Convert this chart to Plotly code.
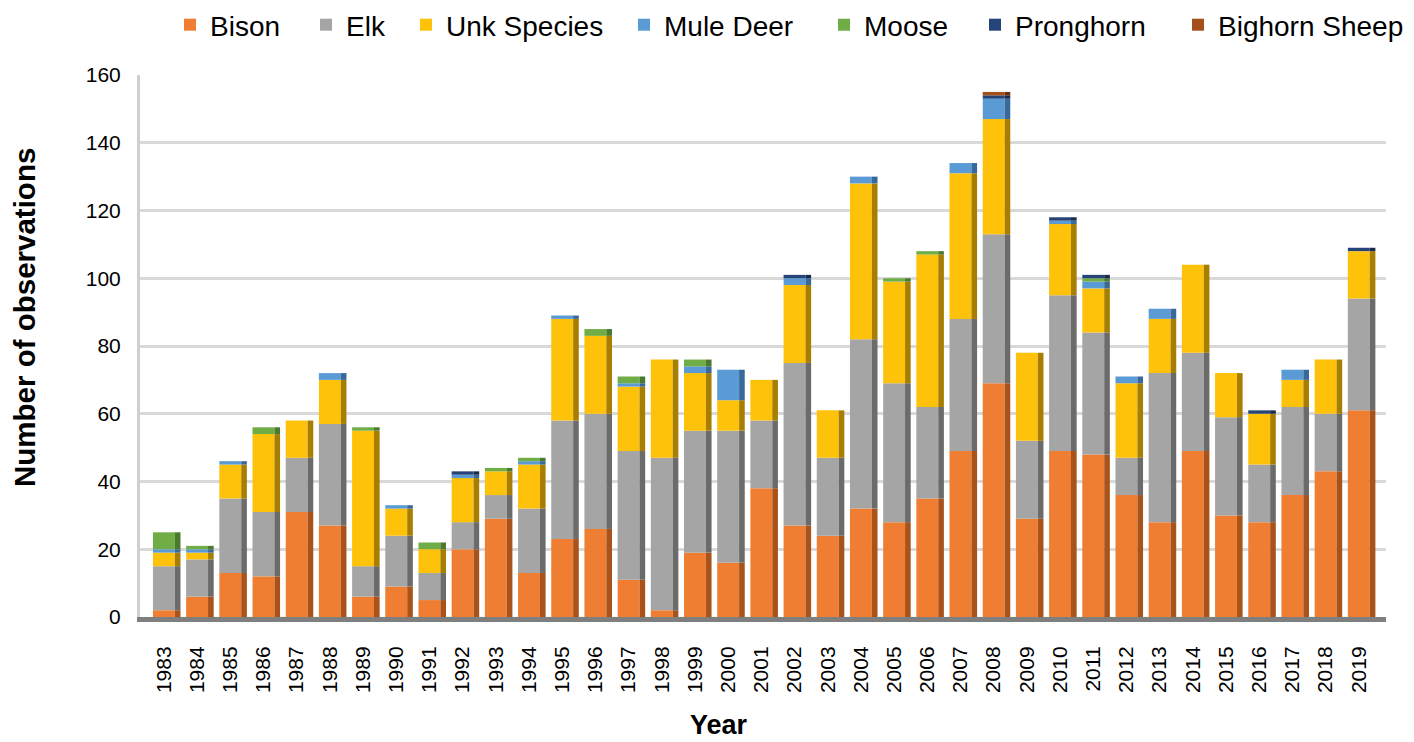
import numpy as np
import plotly.graph_objects as go

years = [str(y) for y in range(1983, 2020)]

bison = [2, 6, 13, 12, 31, 27, 6, 9, 5, 20, 29, 13, 23, 26, 11, 2, 19, 16, 38, 27,
         24, 32, 28, 35, 49, 69, 29, 49, 48, 36, 28, 49, 30, 28, 36, 43, 61]
elk = [13, 11, 22, 19, 16, 30, 9, 15, 8, 8, 7, 19, 35, 34, 38, 45, 36, 39, 20, 48,
       23, 50, 41, 27, 39, 44, 23, 46, 36, 11, 44, 29, 29, 17, 26, 17, 33]
unk_species = [4, 2, 10, 23, 11, 13, 40, 8, 7, 13, 7, 13, 30, 23, 19, 29, 17, 9, 12, 23,
               14, 46, 30, 45, 43, 34, 26, 21, 13, 22, 16, 26, 13, 15, 8, 16, 14]
mule_deer = [1, 1, 1, 0, 0, 2, 0, 1, 0, 1, 0, 1, 1, 0, 1, 0, 2, 9, 0, 2,
             0, 2, 0, 0, 3, 6, 0, 1, 2, 2, 3, 0, 0, 0, 3, 0, 0]
moose = [5, 1, 0, 2, 0, 0, 1, 0, 2, 0, 1, 1, 0, 2, 2, 0, 2, 0, 0, 0,
         0, 0, 1, 1, 0, 0, 0, 0, 1, 0, 0, 0, 0, 0, 0, 0, 0]
pronghorn = [0, 0, 0, 0, 0, 0, 0, 0, 0, 1, 0, 0, 0, 0, 0, 0, 0, 0, 0, 1,
             0, 0, 0, 0, 0, 1, 0, 1, 1, 0, 0, 0, 0, 1, 0, 0, 1]
bighorn_sheep = [0, 0, 0, 0, 0, 0, 0, 0, 0, 0, 0, 0, 0, 0, 0, 0, 0, 0, 0, 0,
                 0, 0, 0, 0, 0, 1, 0, 0, 0, 0, 0, 0, 0, 0, 0, 0, 0]

series = [
    ("Bison", bison, "#F07E32", "#A9531B"),
    ("Elk", elk, "#A5A5A5", "#6B6B6B"),
    ("Unk Species", unk_species, "#FFC20A", "#A87E00"),
    ("Mule Deer", mule_deer, "#5B9BD5", "#39699A"),
    ("Moose", moose, "#70AD47", "#4A7A2D"),
    ("Pronghorn", pronghorn, "#264478", "#172B4D"),
    ("Bighorn Sheep", bighorn_sheep, "#A5501A", "#6B300A"),
]
# left pixel of each legend entry (one legend box per series, as in the reference layout)
legend_left_px = [170, 306, 406, 624, 824, 975, 1178]

FONT = "Liberation Sans"
W, H = 1414, 742
L, R, T, B = 140, 1414 - 1386, 75, 742 - 617
pw, ph = W - L - R, H - T - B

fig = go.Figure()
base = np.zeros(len(years))
legend_layouts = {}
for i, (name, vals, col, side) in enumerate(series):
    v = np.array(vals, dtype=float)
    lg = "legend" if i == 0 else f"legend{i + 1}"
    fig.add_trace(go.Bar(
        x=years, y=v, base=base.copy(), name=name, legend=lg,
        marker=dict(color=col, line=dict(width=0)),
        width=0.66, offset=-0.33, showlegend=True,
    ))
    fig.add_trace(go.Bar(
        x=years, y=v, base=base.copy(), name=name,
        marker=dict(color=side, line=dict(width=0)),
        width=0.17, offset=0.33, showlegend=False, hoverinfo="skip",
    ))
    base = base + v
    legend_layouts[lg] = dict(
        orientation="h", xref="container", yref="container",
        x=legend_left_px[i] / W, xanchor="left",
        y=1.0, yanchor="top",
        font=dict(family=FONT, size=28, color="#000000"),
        bgcolor="rgba(0,0,0,0)", borderwidth=0, itemwidth=30,
    )

fig.update_layout(
    width=W, height=H,
    margin=dict(l=L, r=R, t=T, b=B, autoexpand=False),
    barmode="overlay",
    plot_bgcolor="white", paper_bgcolor="white",
    font=dict(family=FONT, color="#000000"),
    xaxis=dict(
        type="category", range=[-0.72, 36.82], automargin=False,
        tickangle=-90, tickfont=dict(family=FONT, size=21, color="#000000"),
        showgrid=False, showline=True, linecolor="#7F7F7F", linewidth=5,
        ticks="", ticklabelstandoff=16,
    ),
    yaxis=dict(
        range=[0, 160], tickvals=list(range(0, 161, 20)), automargin=False,
        tickfont=dict(family=FONT, size=21, color="#000000"),
        showgrid=True, gridcolor="#D9D9D9", gridwidth=3,
        showline=True, linecolor="#D0D0D0", linewidth=3,
        zeroline=False, ticks="", ticklabelstandoff=12,
    ),
    annotations=[
        dict(text="<b>Number of observations</b>", xref="paper", yref="paper",
             x=(24 - L) / pw, y=(617 - 318) / ph, xanchor="center", yanchor="middle",
             textangle=-90, showarrow=False, font=dict(family=FONT, size=29.5, color="#000000")),
        dict(text="<b>Year</b>", xref="paper", yref="paper",
             x=(719 - L) / pw, y=(617 - 725) / ph, xanchor="center", yanchor="middle",
             showarrow=False, font=dict(family=FONT, size=27, color="#000000")),
    ],
    **legend_layouts,
)

fig.write_html("out.html", config={"displayModeBar": False},
               post_script="document.body.style.margin='0';")
